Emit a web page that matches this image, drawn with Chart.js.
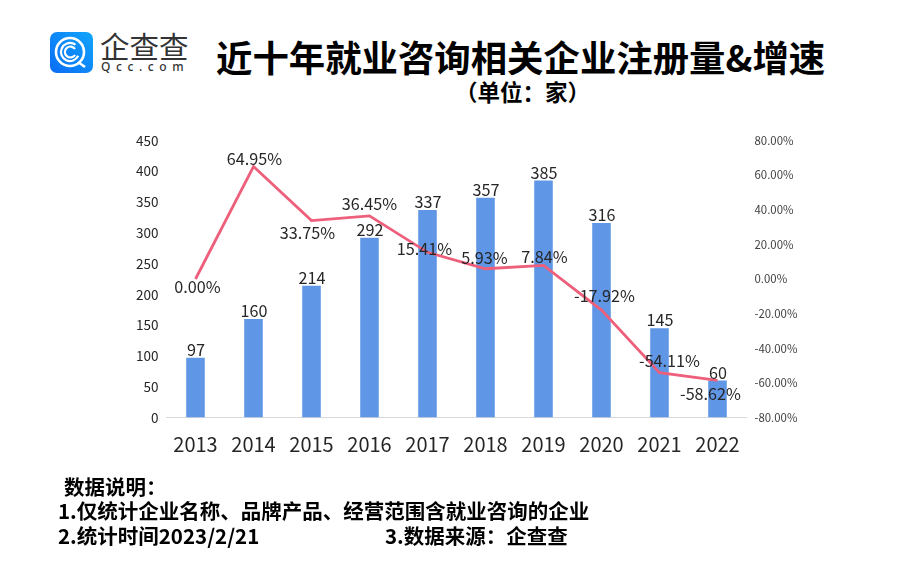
<!DOCTYPE html>
<html>
<head>
<meta charset="utf-8">
<script src="https://cdn.jsdelivr.net/npm/chart.js@4"></script>
<style>
  html, body { margin: 0; padding: 0; background: #fff; }
  body { width: 900px; height: 573px; position: relative; overflow: hidden; font-family: "Noto Sans CJK SC", sans-serif; color: #000; }
  #myChart { position: absolute; left: 0; top: 0; }
  .txt { position: absolute; white-space: nowrap; font-weight: 700; line-height: 1; }
  #title { left: 216px; top: 38px; font-size: 36.4px; }
  #subtitle { left: 455px; top: 80px; font-size: 22.5px; }
  .note { font-size: 20.5px; }
  #logo { position: absolute; left: 49px; top: 32px; }
  #logoName { left: 100px; top: 31px; font-size: 29.5px; font-weight: 400; color: #333; }
  #logoSub { left: 101px; top: 61px; font-size: 12px; font-weight: 500; color: #333; letter-spacing: 5.6px; font-family: "Noto Sans", sans-serif; }
</style>
</head>
<body>
<svg id="logo" width="44" height="42" viewBox="0 0 44 42">
  <defs>
    <linearGradient id="g" x1="0" y1="1" x2="1" y2="0">
      <stop offset="0" stop-color="#0a6cf5"/>
      <stop offset="1" stop-color="#12a5fb"/>
    </linearGradient>
  </defs>
  <rect x="1" y="0" width="43" height="41" rx="7" fill="url(#g)"/>
  <circle cx="21" cy="20" r="14" fill="none" stroke="#fff" stroke-width="2.6"/>
  <circle cx="21" cy="20" r="9" fill="none" stroke="#fff" stroke-width="2.2" stroke-dasharray="44 13" transform="rotate(25 21 20)"/>
  <path d="M26 17 A5.5 5.5 0 1 0 26 23" fill="none" stroke="#fff" stroke-width="2.2"/>
  <path d="M29 30 L36 35" stroke="#fff" stroke-width="2.6"/>
</svg>
<div class="txt" id="logoName">企查查</div>
<div class="txt" id="logoSub">Qcc.com</div>
<div class="txt" id="title">近十年就业咨询相关企业注册量&amp;增速</div>
<div class="txt" id="subtitle">（单位：家）</div>
<canvas id="myChart" width="900" height="573"></canvas>
<div class="txt note" style="left:64px;top:476px">数据说明：</div>
<div class="txt note" style="left:58px;top:500px">1.仅统计企业名称、品牌产品、经营范围含就业咨询的企业</div>
<div class="txt note" style="left:58px;top:525px">2.统计时间2023/2/21</div>
<div class="txt note" style="left:385px;top:525px">3.数据来源：企查查</div>
<script>
const years = ['2013','2014','2015','2016','2017','2018','2019','2020','2021','2022'];
const companies = [97,160,214,292,337,357,385,316,145,60];
const growth = [0,64.95,33.75,36.45,15.41,5.93,7.84,-17.92,-54.11,-58.62];

// label offsets from the line point, set by hand so they sit like the original
const growthLabelDx = [2,1,-4,0,-3,-1,1,3,10,-7];
const growthLabelDy = [8,-8,12,-12,-3,-11,-9,-14,-12,13];

const labelFont = '16.2px "Noto Sans CJK SC", sans-serif';

const valueLabels = {
    id: 'valueLabels',
    afterDatasetsDraw(chart) {
        const ctx = chart.ctx;
        ctx.save();
        ctx.font = labelFont;
        ctx.fillStyle = '#262626';
        ctx.textAlign = 'center';
        ctx.textBaseline = 'middle';
        chart.getDatasetMeta(1).data.forEach(function (bar, i) {
            ctx.fillText(companies[i], bar.x + 0.5, bar.y - 8);
        });
        chart.getDatasetMeta(0).data.forEach(function (pt, i) {
            ctx.fillText(growth[i].toFixed(2) + '%', pt.x + growthLabelDx[i], pt.y + growthLabelDy[i]);
        });
        ctx.restore();
    }
};

new Chart(document.getElementById('myChart').getContext('2d'), {
    type: 'bar',
    data: {
        labels: years,
        datasets: [
            {
                type: 'line',
                label: '增速',
                data: growth,
                yAxisID: 'y1',
                borderColor: '#EE5F7B',
                borderWidth: 2.8,
                pointRadius: 0,
                tension: 0,
                order: 1
            },
            {
                type: 'bar',
                label: '注册量',
                data: companies,
                yAxisID: 'y',
                backgroundColor: '#5F96E6',
                barPercentage: 0.32,
                categoryPercentage: 1,
                order: 2
            }
        ]
    },
    options: {
        responsive: false,
        animation: false,
        layout: { padding: { top: 140.5 } },
        plugins: {
            legend: { display: false },
            tooltip: { enabled: false }
        },
        scales: {
            x: {
                grid: { display: false, drawTicks: false },
                border: { color: '#D9D9D9' },
                ticks: {
                    color: '#262626',
                    padding: 15,
                    maxRotation: 0,
                    font: { size: 20, family: '"Noto Sans CJK SC"' }
                },
                afterFit(scale) { scale.height = 155.5; }
            },
            y: {
                position: 'left',
                min: 0,
                max: 450,
                grid: { display: false, drawTicks: false },
                border: { display: false },
                ticks: {
                    stepSize: 50,
                    color: '#262626',
                    padding: 8,
                    font: { size: 13.5, family: '"Noto Sans CJK SC"' }
                },
                afterFit(scale) { scale.width = 166.5; }
            },
            y1: {
                position: 'right',
                min: -80,
                max: 80,
                grid: { display: false, drawTicks: false },
                border: { display: false },
                ticks: {
                    stepSize: 20,
                    color: '#404040',
                    padding: 8,
                    font: { size: 11.4, family: '"Noto Sans CJK SC"' },
                    callback: function (v) { return v.toFixed(2) + '%'; }
                },
                afterFit(scale) { scale.width = 153.5; }
            }
        }
    },
    plugins: [valueLabels]
});
</script>
</body>
</html>
